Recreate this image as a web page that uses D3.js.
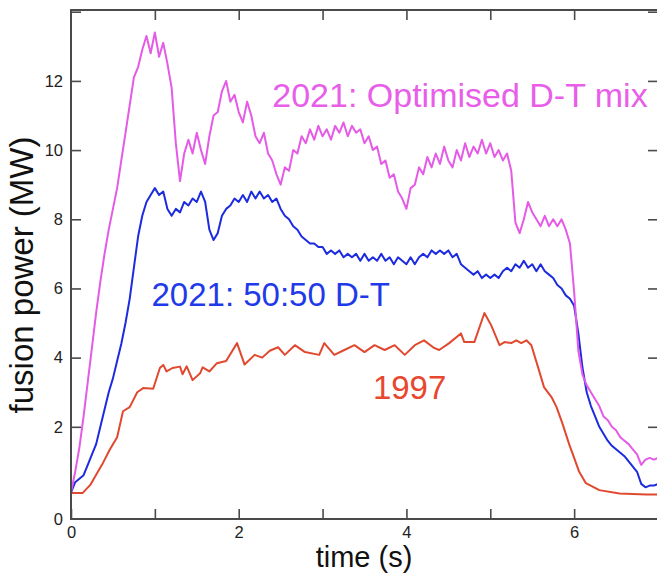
<!DOCTYPE html>
<html><head><meta charset="utf-8">
<script src="https://cdn.jsdelivr.net/npm/d3@7"></script>
<style>
html,body{margin:0;padding:0;background:#fff;}
svg{display:block;font-family:"Liberation Sans", Arial, Helvetica, sans-serif;}
</style>
</head><body>
<svg id="chart" width="657" height="574"></svg>
<script>
// ---- data ----
const xTickValues = [0, 1, 2, 3, 4, 5, 6];
const xTickLabels = ["0", "", "2", "", "4", "", "6"];
const yTickValues = [2, 4, 6, 8, 10, 12, 14];
const yTickLabels = ["2", "4", "6", "8", "10", "12", ""];
const yCornerLabel = "0";
const xTitle = "time (s)";
const yTitle = "fusion power (MW)";

const sampleStep2021 = 0.05; // s between samples of the 2021 traces
const optimised2021 = [
  0.1,0.7,1.4,2.3,3.3,4.3,5.3,6.2,7.0,7.7,
  8.3,8.9,9.7,10.5,11.3,12.1,12.4,12.9,13.3,12.8,
  13.4,12.7,13.1,12.5,11.8,10.2,9.1,9.9,10.3,9.9,
  10.5,10.0,9.6,10.4,11.0,11.1,11.7,12.0,11.4,11.6,
  11.1,10.8,11.4,11.0,10.4,10.2,10.5,9.9,9.7,9.3,
  9.0,9.5,9.4,10.0,9.9,10.4,10.2,10.6,10.3,10.7,
  10.4,10.6,10.3,10.7,10.5,10.8,10.4,10.7,10.5,10.6,
  10.2,10.4,10.0,10.1,9.6,9.7,9.2,9.3,8.8,8.6,
  8.3,8.9,9.0,9.5,9.3,9.8,9.5,9.9,9.6,10.1,
  9.7,9.5,10.0,9.7,10.2,9.8,10.1,9.9,10.3,9.9,
  10.2,9.8,10.0,9.7,9.9,9.4,7.9,7.6,8.0,8.5,
  8.2,8.0,7.8,8.1,7.8,8.0,7.8,8.0,7.7,7.3,
  5.9,4.2,3.5,3.2,3.0,2.8,2.6,2.3,2.2,2.0,
  1.9,1.7,1.6,1.5,1.35,1.2,0.9,1.05,1.1,1.05,
  1.1
];
const fiftyFifty2021 = [
  0.1,0.4,0.5,0.6,0.9,1.2,1.5,2.0,2.5,3.0,
  3.4,3.9,4.4,5.0,5.7,6.6,7.5,8.1,8.5,8.7,
  8.9,8.7,8.8,8.3,8.1,8.3,8.2,8.5,8.4,8.6,
  8.5,8.8,8.5,7.7,7.4,7.6,8.1,8.3,8.4,8.6,
  8.5,8.7,8.5,8.8,8.6,8.8,8.6,8.7,8.5,8.6,
  8.3,8.1,8.0,7.8,7.7,7.5,7.4,7.3,7.3,7.2,
  7.2,7.0,7.1,7.0,7.1,6.9,7.0,6.9,7.0,6.8,
  7.0,6.8,6.9,6.8,7.0,6.8,6.9,6.7,6.9,6.8,
  6.7,6.9,6.7,6.9,7.0,6.9,7.1,7.0,7.1,7.0,
  7.1,6.9,7.0,6.7,6.6,6.5,6.4,6.5,6.3,6.4,
  6.3,6.4,6.3,6.5,6.6,6.5,6.7,6.6,6.8,6.6,
  6.7,6.5,6.7,6.5,6.4,6.3,6.1,6.0,5.8,5.7,
  5.5,4.7,3.7,3.0,2.6,2.3,2.0,1.8,1.6,1.45,
  1.35,1.25,1.15,1.0,0.85,0.7,0.35,0.25,0.3,0.3,
  0.35
];
const time1997 = [0,0.14,0.23,0.31,0.38,0.46,0.55,0.62,0.7,0.79,0.86,0.98,1.06,1.1,1.14,1.21,1.3,1.33,1.38,1.45,1.54,1.57,1.65,1.74,1.85,1.98,2.07,2.19,2.28,2.37,2.47,2.55,2.67,2.79,2.96,3.02,3.14,3.26,3.38,3.5,3.62,3.74,3.86,3.98,4.1,4.21,4.33,4.39,4.51,4.65,4.69,4.81,4.93,5.01,5.11,5.17,5.25,5.31,5.37,5.43,5.49,5.58,5.64,5.73,5.79,5.86,5.94,6.0,6.06,6.14,6.3,6.54,6.86,7.0];
const power1997 = [0.09,0.09,0.32,0.66,0.95,1.33,1.7,2.45,2.57,3.0,3.12,3.1,3.7,3.79,3.6,3.7,3.74,3.52,3.75,3.35,3.55,3.72,3.6,3.84,3.9,4.42,3.8,4.08,4.0,4.2,4.3,4.08,4.36,4.16,4.08,4.42,4.08,4.22,4.36,4.16,4.36,4.22,4.36,4.08,4.36,4.5,4.28,4.22,4.42,4.7,4.45,4.45,5.29,4.94,4.36,4.45,4.42,4.5,4.42,4.5,4.36,3.64,3.15,2.86,2.57,2.1,1.5,1.1,0.7,0.37,0.17,0.07,0.04,0.04];

const seriesLabels = ["2021: Optimised D-T mix", "2021: 50:50 D-T", "1997"];
const seriesColors = ["#e55ae6", "#1c2be0", "#e0492f"];
const labelColors  = ["#e85ee9", "#1f3ae8", "#e8472f"];
// label anchor points in data coordinates (time, power)
const labelTimes  = [2.4, 0.96, 3.6];
const labelPowers = [11.25, 5.5, 2.8];

// ---- chart ----
const svg = d3.select("#chart");
const x = d3.scaleLinear().domain([0, 7]).range([71, 658]);
const y = d3.scaleLinear().domain([-0.665, 14.05]).range([519, 10]);
const axisColor = "#4a4a4a";

const toPts = (vals) => vals.map((v, i) => [i * sampleStep2021, v]);
const data = [
  time1997.map((t, i) => [t, power1997[i]]),
  toPts(fiftyFifty2021),
  toPts(optimised2021)
];
const colorOrder = [seriesColors[2], seriesColors[1], seriesColors[0]];

const line = d3.line().x(d => x(d[0])).y(d => y(d[1]));
svg.append("g").selectAll("path").data(data).join("path")
  .attr("d", line)
  .attr("fill", "none")
  .attr("stroke", (d, i) => colorOrder[i])
  .attr("stroke-width", 2)
  .attr("stroke-linejoin", "round");

// frame
svg.append("rect")
  .attr("x", x(0)).attr("y", y(14.05))
  .attr("width", x(7) - x(0)).attr("height", y(-0.665) - y(14.05))
  .attr("fill", "none").attr("stroke", axisColor).attr("stroke-width", 2);

function styleAxis(g) {
  g.select(".domain").remove();
  g.selectAll(".tick line").attr("stroke", axisColor).attr("stroke-width", 1.6);
  g.selectAll(".tick text").attr("fill", "#222").style("font-size", "16.5px")
    .style("font-family", '"Liberation Sans", Arial, sans-serif');
}

svg.append("g").attr("transform", `translate(0,${y(-0.665)})`)
  .call(d3.axisBottom(x).tickValues(xTickValues).tickSize(-10).tickPadding(7)
    .tickFormat((d, i) => xTickLabels[i]))
  .call(styleAxis);
svg.append("g").attr("transform", `translate(0,${y(14.05)})`)
  .call(d3.axisTop(x).tickValues(xTickValues.slice(1)).tickSize(-10).tickFormat(""))
  .call(styleAxis);
svg.append("g").attr("transform", `translate(${x(0)},0)`)
  .call(d3.axisLeft(y).tickValues(yTickValues).tickSize(-10).tickPadding(8)
    .tickFormat((d, i) => yTickLabels[i]))
  .call(styleAxis);
svg.append("g").attr("transform", `translate(${x(7)},0)`)
  .call(d3.axisRight(y).tickValues(yTickValues).tickSize(-10).tickFormat(""))
  .call(styleAxis);

svg.append("text").attr("x", x(0) - 8).attr("y", y(-0.665)).attr("dy", "0.35em")
  .attr("text-anchor", "end").attr("fill", "#222").style("font-size", "16.5px")
  .text(yCornerLabel);

// axis titles
svg.append("text").attr("x", 364).attr("y", 567).attr("text-anchor", "middle")
  .attr("fill", "#111").style("font-size", "29px").text(xTitle);
svg.append("text").attr("transform", "translate(33,275) rotate(-90)")
  .attr("text-anchor", "middle").attr("fill", "#111").style("font-size", "33px").text(yTitle);

// series labels
const labelSizes = [34, 33, 33];
svg.append("g").selectAll("text").data(seriesLabels).join("text")
  .attr("x", (d, i) => x(labelTimes[i]))
  .attr("y", (d, i) => y(labelPowers[i]))
  .attr("fill", (d, i) => labelColors[i])
  .style("font-size", (d, i) => labelSizes[i] + "px")
  .text(d => d);
</script>
</body></html>
